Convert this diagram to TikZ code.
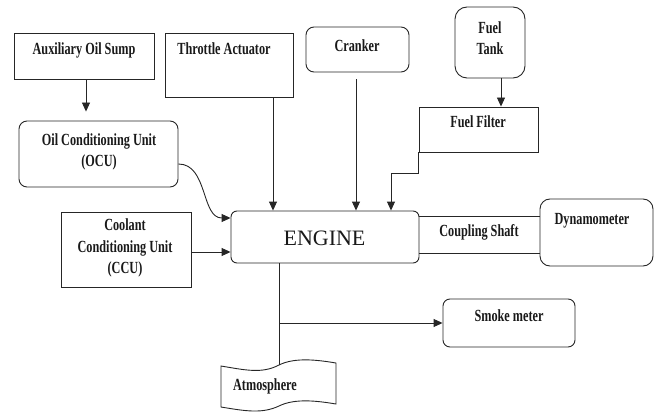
\documentclass[tikz,border=0pt]{standalone}
\usepackage{fontspec}
\setmainfont{Liberation Serif}
\newfontfamily\lblfont[FakeStretch=0.72]{Liberation Serif}
\usetikzlibrary{arrows.meta}
\begin{document}
\begin{tikzpicture}[x=1pt,y=-1pt,
  box/.style={draw=black!85, line width=0.9pt, inner sep=0pt},
  rbox/.style={box, rounded corners=#1},
  lbl/.style={font=\lblfont\bfseries\fontsize{17}{21.5}\selectfont, inner sep=0pt, align=center, text=black!90},
  arr/.style={draw=black!85, line width=0.9pt, -{Triangle[length=9pt,width=8pt]}},
  ln/.style={draw=black!85, line width=0.9pt}]
\useasboundingbox (0,0) rectangle (659,412);
% boxes
\node[box, minimum width=140pt, minimum height=46pt] (aux) at (84,56) {};
\node[box, minimum width=128pt, minimum height=64pt] (thr) at (229,65) {};
\node[rbox=8pt, minimum width=103pt, minimum height=45pt] (crk) at (357.5,49.5) {};
\node[rbox=12pt, minimum width=70pt, minimum height=71pt] (tank) at (490,42.5) {};
\node[box, minimum width=119pt, minimum height=45pt] (filt) at (478.5,129.5) {};
\node[rbox=8pt, minimum width=159pt, minimum height=66pt] (ocu) at (98.5,154) {};
\node[box, minimum width=130pt, minimum height=75pt] (ccu) at (126,249.5) {};
\node[rbox=6pt, minimum width=188pt, minimum height=52pt] (eng) at (325,237) {};
\node[rbox=10pt, minimum width=113pt, minimum height=67pt] (dyn) at (596.5,232.5) {};
\node[rbox=7pt, minimum width=132pt, minimum height=48pt] (smk) at (509,323) {};
% atmosphere tape
\draw[ln] (221,366) .. controls (245,370) and (262,374) .. (279,365)
  .. controls (295,357) and (318,360) .. (336,363) -- (336,404)
  .. controls (318,401) and (295,398) .. (279,406)
  .. controls (262,414) and (245,411) .. (221,407) -- cycle;
% texts
\node[lbl, anchor=base] (auxt) at (84,55) {Auxiliary Oil Sump};
\node[lbl, anchor=base] (thrt) at (224,55) {Throttle Actuator};
\node[lbl, anchor=base] (crkt) at (357,52) {Cranker};
\node[lbl] (tankt) at (490,38) {Fuel\\Tank};
\node[lbl, anchor=base] (filtt) at (478,128) {Fuel Filter};
\node[lbl] (ocut) at (99,152) {Oil Conditioning Unit\\(OCU)};
\node[lbl] (ccut) at (125,248) {Coolant\\Conditioning Unit\\(CCU)};
\node[anchor=base, inner sep=0pt, font=\fontsize{22}{26}\selectfont, text=black!90] (engt) at (324.5,245) {ENGINE};
\node[lbl, anchor=base] (cplt) at (479,236) {Coupling Shaft};
\node[lbl, anchor=base] (dynt) at (592,224) {Dynamometer};
\node[lbl, anchor=base] (smkt) at (509,321) {Smoke meter};
\node[lbl, anchor=base] (atmt) at (265,390) {Atmosphere};
% connectors
\draw[arr, shorten >=9pt] ([xshift=2pt]aux.south) -- ([xshift=2pt]aux.south |- ocu.north);
\draw[arr] ([xshift=44pt]thr.south) -- ([xshift=44pt]thr.south |- eng.north);
\draw[arr, shorten <=7pt] ([xshift=-1.5pt]crk.south) -- ([xshift=-1.5pt]crk.south |- eng.north);
\draw[arr] ([xshift=11pt]tank.south) -- ([xshift=11pt]tank.south |- filt.north);
\draw[arr] (filt.south west) -- ++(0,21) -| ([xshift=66pt]eng.north);
\draw[arr] ([yshift=-10pt]ocu.east) to[out=0,in=180] ([yshift=19pt]eng.west);
\draw[arr] ([yshift=-2.5pt]ccu.east) -- ([yshift=-2.5pt]ccu.east -| eng.west);
\draw[ln] ([yshift=21pt]eng.east) -- ([yshift=21pt]eng.east -| dyn.west);
\draw[ln] ([yshift=-16pt]eng.east) -- ([yshift=-16pt]eng.east -| dyn.west);
\coordinate (ex) at ([xshift=-46pt]eng.south);
\coordinate (atmtop) at (279,365);
\coordinate (br) at (279,323);
\draw[ln] (ex) -- (atmtop);
\draw[arr] (br) -- (br -| smk.west);
\end{tikzpicture}
\end{document}
